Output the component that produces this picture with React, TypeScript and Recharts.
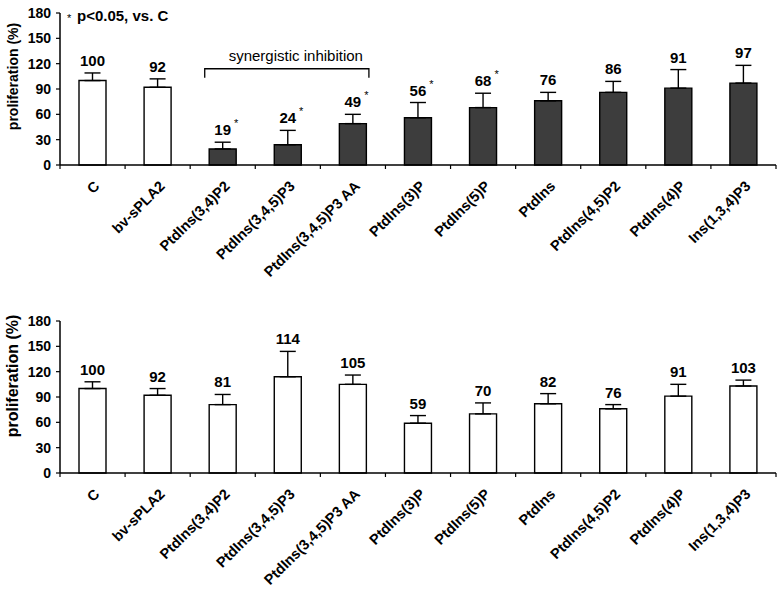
import React from "react";
import { BarChart, Bar, XAxis, YAxis, ErrorBar, LabelList, ReferenceLine, Cell, Text } from "recharts";

const FONT = '"Liberation Sans", Arial, sans-serif';

// categories along both x axes
const categories = [
  "C",
  "bv-sPLA2",
  "PtdIns(3,4)P2",
  "PtdIns(3,4,5)P3",
  "PtdIns(3,4,5)P3 AA",
  "PtdIns(3)P",
  "PtdIns(5)P",
  "PtdIns",
  "PtdIns(4,5)P2",
  "PtdIns(4)P",
  "Ins(1,3,4)P3",
];

// top panel: with bv-sPLA2
const topValues = [100, 92, 19, 24, 49, 56, 68, 76, 86, 91, 97];
const topErrors = [9, 10, 8, 17, 11, 18, 17, 10, 13, 22, 21];
const topSignificant = [false, false, true, true, true, true, true, false, false, false, false];
const topShaded = [false, false, true, true, true, true, true, true, true, true, true];

// bottom panel: lipids alone
const bottomValues = [100, 92, 81, 114, 105, 59, 70, 82, 76, 91, 103];
const bottomErrors = [8, 8, 12, 30, 11, 9, 13, 12, 5, 14, 7];

const yTicks = [0, 30, 60, 90, 120, 150, 180];
const bracketLevel = 114;

const CHART_W = 777;
const CHART_H = 300;
const HALF_BAND = (CHART_W - 61) / categories.length / 2;

const CategoryTick = (props: any) => {
  const { x, y, payload, index } = props;
  const last = index === categories.length - 1;
  return (
    <g>
      <line x1={x - HALF_BAND} x2={x - HALF_BAND} y1={y} y2={y + 4} stroke="#000" strokeWidth={1.2} />
      {last && <line x1={x + HALF_BAND} x2={x + HALF_BAND} y1={y} y2={y + 4} stroke="#000" strokeWidth={1.2} />}
      <Text
        x={x + 8}
        y={y + 22}
        angle={-45}
        textAnchor="end"
        verticalAnchor="end"
        fontFamily={FONT}
        fontSize={14.5}
        fontWeight="bold"
        fill="#000"
      >
        {payload.value}
      </Text>
    </g>
  );
};

const makeValueLabel = (errors: number[], sig?: boolean[]) => (p: any) => {
  const vb = p.viewBox ?? p;
  const { x, y, width, height } = vb;
  const index = p.index;
  const value = Number(p.value);
  const perUnit = height / value;
  const top = y - errors[index] * perUnit;
  const cx = x + width / 2;
  const base = top - 7;
  const half = (String(value).length * 0.556 * 15) / 2;
  return (
    <g>
      <text x={cx} y={base} textAnchor="middle" fontFamily={FONT} fontSize={15} fontWeight="bold" fill="#000">
        {value}
      </text>
      {sig && sig[index] && (
        <text x={cx + half + 3} y={base - 8} fontFamily={FONT} fontSize={11} fill="#000">
          *
        </text>
      )}
    </g>
  );
};

const yLabel = (dy: number, size: number) => (p: any) => {
  const vb = p.viewBox || { y: 13, height: 152 };
  const cy = vb.y + vb.height / 2 + dy;
  return (
    <text
      x={18}
      y={cy}
      transform={`rotate(-90, 18, ${cy})`}
      textAnchor="middle"
      fontFamily={FONT}
      fontSize={size}
      fontWeight="bold"
      fill="#000"
    >
      proliferation (%)
    </text>
  );
};

const Bracket = (p: any) => {
  const { x1, x2, y1 } = p;
  const l = x1 - 18;
  const r = x2 + 16;
  return (
    <g>
      <path d={`M${l},${y1 + 9}V${y1}H${r}V${y1 + 9}`} stroke="#000" strokeWidth={1.3} fill="none" />
      <text x={(l + r) / 2 + 9} y={y1 - 8} textAnchor="middle" fontFamily={FONT} fontSize={15} fill="#000">
        synergistic inhibition
      </text>
    </g>
  );
};

function Panel({
  values,
  errors,
  shaded,
  sig,
  labelDy,
  labelSize,
  bracket,
}: {
  values: number[];
  errors: number[];
  shaded: boolean[];
  sig?: boolean[];
  labelDy: number;
  labelSize: number;
  bracket?: boolean;
}) {
  const data = categories.map((name, i) => ({ name, value: values[i], err: [0, errors[i]] }));
  return (
    <BarChart width={CHART_W} height={CHART_H} data={data} margin={{ top: 13, right: 1, left: 0, bottom: 0 }}>
      <XAxis
        dataKey="name"
        interval={0}
        height={135}
        tickLine={false}
        tickSize={0}
        tickMargin={0}
        axisLine={{ stroke: "#000", strokeWidth: 1.5 }}
        tick={<CategoryTick />}
      />
      <YAxis
        width={60}
        domain={[0, 180]}
        ticks={yTicks}
        interval={0}
        tickSize={4}
        tickMargin={5}
        axisLine={{ stroke: "#000", strokeWidth: 1.5 }}
        tickLine={{ stroke: "#000", strokeWidth: 1.2 }}
        tick={{ fontSize: 14, fontWeight: "bold", fill: "#000", fontFamily: FONT }}
        label={yLabel(labelDy, labelSize)}
      />
      <Bar dataKey="value" barSize={27} stroke="#000" strokeWidth={1.4} isAnimationActive={false}>
        {data.map((d, i) => (
          <Cell key={d.name} fill={shaded[i] ? "#3d3d3d" : "#ffffff"} />
        ))}
        <ErrorBar dataKey="err" width={8} stroke="#000" strokeWidth={1.4} direction="y" />
        <LabelList dataKey="value" content={makeValueLabel(errors, sig)} />
      </Bar>
      {bracket && (
        <ReferenceLine
          segment={[
            { x: categories[2], y: bracketLevel },
            { x: categories[4], y: bracketLevel },
          ]}
          shape={Bracket}
        />
      )}
    </BarChart>
  );
}

export default function App() {
  return (
    <div style={{ position: "absolute", left: 0, top: 0, width: 777, height: 589, background: "#fff" }}>
      <div style={{ position: "absolute", left: 0, top: 0 }}>
        <Panel
          values={topValues}
          errors={topErrors}
          shaded={topShaded}
          sig={topSignificant}
          labelDy={-12.5}
          labelSize={14}
          bracket
        />
      </div>
      <svg style={{ position: "absolute", left: 0, top: 0, pointerEvents: "none" }} width={200} height={30}>
        <text x={67} y={22} fontFamily={FONT} fontSize={11} fill="#000">*</text>
        <text x={77} y={21} fontFamily={FONT} fontSize={15} fontWeight="bold" fill="#000">
          p&lt;0.05, vs. C
        </text>
      </svg>
      <div style={{ position: "absolute", left: 0, top: 308 }}>
        <Panel
          values={bottomValues}
          errors={bottomErrors}
          shaded={categories.map(() => false)}
          labelDy={-21}
          labelSize={16}
        />
      </div>
    </div>
  );
}
